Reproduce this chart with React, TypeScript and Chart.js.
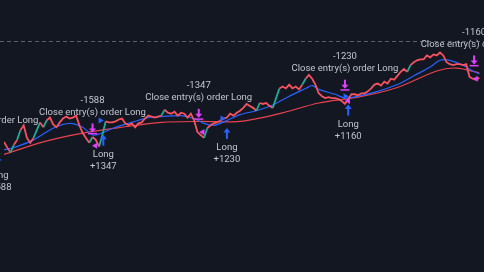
import React, { useEffect, useRef } from "react";
import { Chart, registerables } from "chart.js";

Chart.register(...registerables);

// ---- data (bar index -> price) ----
const closes = [
  3580, 3520, 3470, 3550, 3600, 3700, 3750, 3620, 3570, 3620,
  3700, 3780, 3730, 3800, 3830, 3760, 3730, 3780, 3820, 3840,
  3820, 3830, 3850, 3750, 3670, 3620, 3570, 3630, 3600, 3530,
  3650, 3790, 3780, 3780, 3790, 3810, 3820, 3770, 3750, 3770,
  3730, 3770, 3780, 3820, 3850, 3840, 3830, 3840, 3850, 3910,
  3880, 3870, 3890, 3850, 3880, 3870, 3830, 3870, 3800, 3680,
  3650, 3620, 3720, 3750, 3770, 3780, 3800, 3820, 3830, 3870,
  3850, 3880, 3900, 3930, 3970, 3950, 3930, 3900, 3980, 3970,
  3980, 3950, 3930, 4030, 4130, 4150, 4130, 4170, 4130, 4150,
  4120, 4170, 4230, 4270, 4230, 4170, 4080, 4050, 4030, 4040,
  4030, 4030, 4020, 4000, 3970, 4020, 4070, 4070, 4060, 4080,
  4080, 4100, 4130, 4170, 4180, 4160, 4200, 4180, 4230, 4220,
  4260, 4300, 4330, 4300, 4370, 4400, 4420, 4430, 4430, 4470,
  4450, 4480, 4470, 4500, 4470, 4400, 4380, 4370, 4380, 4380,
  4370, 4380, 4250, 4230, 4220, 4240,
];

const fastIdx = [0, 3, 9, 15, 20, 24, 27, 29, 34, 39, 44, 48, 54, 58, 61, 64, 68, 72, 77, 82, 87, 92, 94, 96, 101, 104, 108, 114, 120, 125, 130, 133, 136, 140, 143, 145];
const fastMa = [3500, 3520, 3600, 3720, 3770, 3730, 3650, 3660, 3730, 3780, 3830, 3840, 3850, 3820, 3770, 3750, 3800, 3860, 3900, 3960, 4050, 4130, 4160, 4120, 4070, 4030, 4050, 4100, 4170, 4260, 4350, 4420, 4420, 4370, 4310, 4280];

const slowIdx = [0, 12, 24, 36, 48, 60, 72, 84, 96, 108, 120, 132, 138, 145];
const slowMa = [3450, 3580, 3670, 3730, 3780, 3790, 3790, 3870, 3980, 4040, 4140, 4310, 4340, 4290];

const levelPrice = 4620;

const entryIdx = [-1.8, 30.3, 68, 105];
const entryLow = [3320, 3540, 3610, 3850];
const entryQty = ["+1588", "+1347", "+1230", "+1160"];
const entryName = "Long";

const exitIdx = [-5.8, 27, 59.4, 104, 143.4];
const exitHigh = [3690, 3770, 3920, 4220, 4470];
const exitQty = ["", "-1588", "-1347", "-1230", "-1160"];
const exitName = "Close entry(s) order Long";

const entryFillIdx = [29.4, 66.6, 104.1];
const entryFillPrice = [3800, 3820, 4050];
const exitFillIdx = [27.9, 60.6, 105, 144];
const exitFillPrice = [3540, 3680, 4000, 4230];

const BG = "#131722";
const TEXT = "#c3c6ce";
const MAGENTA = "#e040fb";
const BLUE = "#2962ff";
const DOWN = "#f7525f";
const UP = "#22ab94";

const tradesPlugin = {
  id: "trades",
  beforeDatasetsDraw(chart: any) {
    const { ctx, scales } = chart;
    const y = scales.y;
    const ly = Math.round(y.getPixelForValue(levelPrice)) + 0.5;
    ctx.save();
    ctx.strokeStyle = "#5d606b";
    ctx.lineWidth = 1;
    ctx.setLineDash([4, 3]);
    ctx.beginPath();
    ctx.moveTo(0, ly);
    ctx.lineTo(chart.width, ly);
    ctx.stroke();
    ctx.restore();
  },
  afterDatasetsDraw(chart: any) {
    const { ctx, scales } = chart;
    const x = scales.x;
    const y = scales.y;
    ctx.save();
    ctx.font = "9.5px Roboto";
    ctx.textAlign = "center";
    ctx.textBaseline = "middle";

    exitIdx.forEach((k, i) => {
      const cx = x.getPixelForValue(k);
      const t = y.getPixelForValue(exitHigh[i]);
      ctx.fillStyle = MAGENTA;
      ctx.fillRect(cx - 1, t, 2, 6);
      ctx.beginPath();
      ctx.moveTo(cx - 3.5, t + 5);
      ctx.lineTo(cx + 3.5, t + 5);
      ctx.lineTo(cx, t + 9);
      ctx.closePath();
      ctx.fill();
      ctx.fillRect(cx - 4.5, t + 9.5, 9, 1.5);
      ctx.fillStyle = TEXT;
      ctx.fillText(exitName, cx, t - 11);
      if (exitQty[i]) ctx.fillText(exitQty[i], cx, t - 23);
    });

    entryIdx.forEach((k, i) => {
      const cx = x.getPixelForValue(k);
      const b = y.getPixelForValue(entryLow[i]);
      ctx.fillStyle = BLUE;
      ctx.beginPath();
      ctx.moveTo(cx, b - 11);
      ctx.lineTo(cx - 3.5, b - 6.5);
      ctx.lineTo(cx + 3.5, b - 6.5);
      ctx.closePath();
      ctx.fill();
      ctx.fillRect(cx - 1, b - 7, 2, 7);
      ctx.fillStyle = TEXT;
      ctx.fillText(entryName, cx, b + 9);
      ctx.fillText(entryQty[i], cx, b + 21);
    });
    ctx.restore();
  },
};

export default function App() {
  const ref = useRef<HTMLCanvasElement | null>(null);

  useEffect(() => {
    if (!ref.current) return;
    const chart = new Chart(ref.current, {
      type: "line",
      data: {
        datasets: [
          {
            label: "Exit fill",
            type: "scatter",
            data: exitFillIdx.map((k, i) => ({ x: k, y: exitFillPrice[i] })),
            pointStyle: "triangle",
            rotation: -90,
            pointRadius: 3.5,
            backgroundColor: MAGENTA,
            borderColor: MAGENTA,
            borderWidth: 0,
            order: 0,
          } as any,
          {
            label: "Entry fill",
            type: "scatter",
            data: entryFillIdx.map((k, i) => ({ x: k, y: entryFillPrice[i] })),
            pointStyle: "triangle",
            rotation: 90,
            pointRadius: 3.5,
            backgroundColor: BLUE,
            borderColor: BLUE,
            borderWidth: 0,
            order: 0,
          } as any,
          {
            label: "Price",
            data: closes.map((v, i) => ({ x: i, y: v })),
            borderColor: DOWN,
            borderWidth: 1.8,
            pointRadius: 0,
            tension: 0,
            segment: {
              borderColor: (c: any) =>
                c.p1.parsed.y - c.p0.parsed.y >= 60 ? UP : DOWN,
            },
            order: 1,
          },
          {
            label: "Fast MA",
            data: fastIdx.map((k, i) => ({ x: k, y: fastMa[i] })),
            borderColor: "#2962ff",
            borderWidth: 1.2,
            pointRadius: 0,
            tension: 0.3,
            order: 2,
          },
          {
            label: "Slow MA",
            data: slowIdx.map((k, i) => ({ x: k, y: slowMa[i] })),
            borderColor: "#e8434f",
            borderWidth: 1.2,
            pointRadius: 0,
            tension: 0.3,
            order: 3,
          },
        ],
      },
      options: {
        animation: false,
        responsive: true,
        maintainAspectRatio: false,
        layout: { padding: 0 },
        plugins: { legend: { display: false }, tooltip: { enabled: false } },
        scales: {
          x: { type: "linear", min: 0, max: 145.2, display: false },
          y: { type: "linear", min: 2280, max: 5000, display: false },
        },
      },
      plugins: [tradesPlugin],
    });
    return () => chart.destroy();
  }, []);

  return (
    <div
      style={{
        position: "fixed",
        left: 0,
        top: 0,
        width: 484,
        height: 272,
        background: BG,
      }}
    >
      <canvas ref={ref} />
    </div>
  );
}
